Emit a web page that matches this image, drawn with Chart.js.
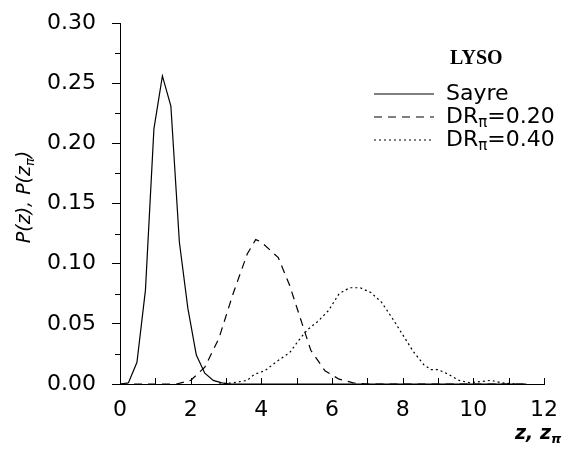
<!DOCTYPE html>
<html>
<head>
<meta charset="utf-8">
<script src="https://cdn.jsdelivr.net/npm/chart.js@4"></script>
<style>
  html, body { margin: 0; padding: 0; background: #fff; }
</style>
</head>
<body>
<canvas id="chart" width="564" height="455"></canvas>
<script>
// Sayre distribution (solid)
const sayreZ = [0, 0.24, 0.48, 0.72, 0.96, 1.2, 1.44, 1.68, 1.92, 2.16, 2.4, 2.64, 2.88, 3.12, 4.0, 6.0, 8.0, 10.0, 11.5];
const sayreP = [0, 0.001, 0.018, 0.078, 0.212, 0.256, 0.231, 0.118, 0.063, 0.024, 0.009, 0.003, 0.001, 0, 0, 0, 0, 0, 0];

// DR_pi = 0.20 (dashed)
const dr20Z = [0, 1.6, 2.0, 2.4, 2.8, 3.2, 3.6, 3.84, 4.0, 4.48, 4.8, 5.1, 5.4, 5.8, 6.2, 6.6, 7.0, 9.0, 11.5];
const dr20P = [0, 0, 0.003, 0.014, 0.038, 0.075, 0.108, 0.12, 0.118, 0.105, 0.082, 0.055, 0.028, 0.011, 0.004, 0.001, 0, 0, 0];

// DR_pi = 0.40 (dotted)
const dr40Z = [2.8, 3.2, 3.6, 3.8, 4.1, 4.45, 4.8, 5.05, 5.3, 5.6, 5.9, 6.2, 6.5, 6.8, 7.1, 7.4, 7.7, 8.0, 8.3, 8.6, 8.8, 9.0, 9.3, 9.6, 9.9, 10.2, 10.5, 10.8, 11.2];
const dr40P = [0, 0.001, 0.003, 0.008, 0.011, 0.019, 0.026, 0.036, 0.045, 0.052, 0.061, 0.075, 0.080, 0.080, 0.076, 0.068, 0.055, 0.041, 0.027, 0.016, 0.012, 0.012, 0.008, 0.003, 0.001, 0.002, 0.003, 0.001, 0];

const seriesNames = ["Sayre", "DR|π|=0.20", "DR|π|=0.40"];
const xTicks = [0, 2, 4, 6, 8, 10, 12];
const yTicks = [0, 0.05, 0.1, 0.15, 0.2, 0.25, 0.3];

const FONT = '"DejaVu Sans", sans-serif';

function toPoints(xs, ys) {
  return xs.map((x, i) => ({ x: x, y: ys[i] }));
}

// text with "|sub|" segments drawn as subscripts
function drawRich(ctx, text, x, y, size, style) {
  const parts = text.split("|");
  let cx = x;
  parts.forEach((part, i) => {
    const sub = i % 2 === 1;
    const fs = sub ? Math.round(size * 0.68) : size;
    ctx.font = (style || "") + " " + fs + "px " + FONT;
    ctx.fillText(part, cx, sub ? y + size * 0.28 : y);
    cx += ctx.measureText(part).width;
  });
  return cx - x;
}

function measureRich(ctx, text, size, style) {
  let w = 0;
  text.split("|").forEach((p, i) => {
    const fs = i % 2 ? Math.round(size * 0.68) : size;
    ctx.font = (style || "") + " " + fs + "px " + FONT;
    w += ctx.measureText(p).width;
  });
  return w;
}

const extrasPlugin = {
  id: "extras",
  afterDraw(chart) {
    const ctx = chart.ctx;
    const xs = chart.scales.x;
    const ys = chart.scales.y;
    const y0 = ys.getPixelForValue(0);
    ctx.save();
    ctx.strokeStyle = "#000";
    ctx.lineWidth = 1;

    // inward x ticks every 1
    for (let v = 0; v <= 12; v++) {
      const px = Math.round(xs.getPixelForValue(v)) + 0.5;
      ctx.beginPath();
      ctx.moveTo(px, y0);
      ctx.lineTo(px, y0 - 6);
      ctx.stroke();
    }
    // minor y ticks (outside)
    for (let v = 0.025; v < 0.3; v += 0.05) {
      const py = Math.round(ys.getPixelForValue(v)) + 0.5;
      const px = xs.left;
      ctx.beginPath();
      ctx.moveTo(px, py);
      ctx.lineTo(px - 5, py);
      ctx.stroke();
    }

    // legend
    ctx.fillStyle = "#000";
    ctx.textBaseline = "middle";
    ctx.textAlign = "left";
    ctx.font = 'bold 20px "Liberation Serif", serif';
    ctx.fillText("LYSO", 450, 59);
    const rowY = [94, 117, 140];
    chart.data.datasets.forEach((ds, i) => {
      ctx.save();
      ctx.lineWidth = 1.2;
      ctx.setLineDash(ds.borderDash || []);
      ctx.beginPath();
      ctx.moveTo(374, rowY[i]);
      ctx.lineTo(434, rowY[i]);
      ctx.stroke();
      ctx.restore();
      drawRich(ctx, seriesNames[i], 446, rowY[i], 22, "");
    });

    // axis titles
    ctx.save();
    ctx.translate(25, 197);
    ctx.rotate(-Math.PI / 2);
    const title = "P(z), P(z|π|)";
    const w = measureRich(ctx, title, 19, "italic");
    drawRich(ctx, title, -w / 2, 0, 19, "italic");
    ctx.restore();

    drawRich(ctx, "z, z|π|", 515, 434, 19, "italic bold");
    ctx.restore();
  }
};

new Chart(document.getElementById("chart"), {
  type: "line",
  data: {
    datasets: [
      {
        label: seriesNames[0],
        data: toPoints(sayreZ, sayreP),
        borderColor: "#000",
        borderWidth: 1.2,
        borderDash: [],
        pointRadius: 0,
        tension: 0
      },
      {
        label: seriesNames[1],
        data: toPoints(dr20Z, dr20P),
        borderColor: "#000",
        borderWidth: 1.2,
        borderDash: [8, 6],
        pointRadius: 0,
        tension: 0
      },
      {
        label: seriesNames[2],
        data: toPoints(dr40Z, dr40P),
        borderColor: "#000",
        borderWidth: 1.2,
        borderDash: [2, 3],
        pointRadius: 0,
        tension: 0
      }
    ]
  },
  options: {
    responsive: false,
    animation: false,
    events: [],
    layout: { padding: { top: 23, right: 20, left: 0, bottom: 0 } },
    plugins: {
      legend: { display: false },
      tooltip: { enabled: false }
    },
    scales: {
      x: {
        type: "linear",
        min: 0,
        max: 12,
        afterBuildTicks: (scale) => {
          scale.ticks = xTicks.map((v) => ({ value: v }));
        },
        afterFit: (scale) => {
          scale.height = 71;
          scale.paddingLeft = 0;
          scale.paddingRight = 0;
        },
        border: { display: true, color: "#000", width: 1 },
        grid: { display: false, drawTicks: false },
        ticks: {
          padding: 13,
          color: "#000",
          font: { family: FONT, size: 22 },
          maxRotation: 0
        }
      },
      y: {
        type: "linear",
        min: 0,
        max: 0.3,
        afterBuildTicks: (scale) => {
          scale.ticks = yTicks.map((v) => ({ value: v }));
        },
        afterFit: (scale) => {
          scale.width = 120;
          scale.paddingTop = 0;
          scale.paddingBottom = 0;
        },
        border: { display: true, color: "#000", width: 1 },
        grid: { display: true, drawOnChartArea: false, drawTicks: true, tickLength: 8, color: "#000" },
        ticks: {
          padding: 16,
          color: "#000",
          font: { family: FONT, size: 22 },
          callback: (v) => v.toFixed(2)
        }
      }
    }
  },
  plugins: [extrasPlugin]
});
</script>
</body>
</html>
